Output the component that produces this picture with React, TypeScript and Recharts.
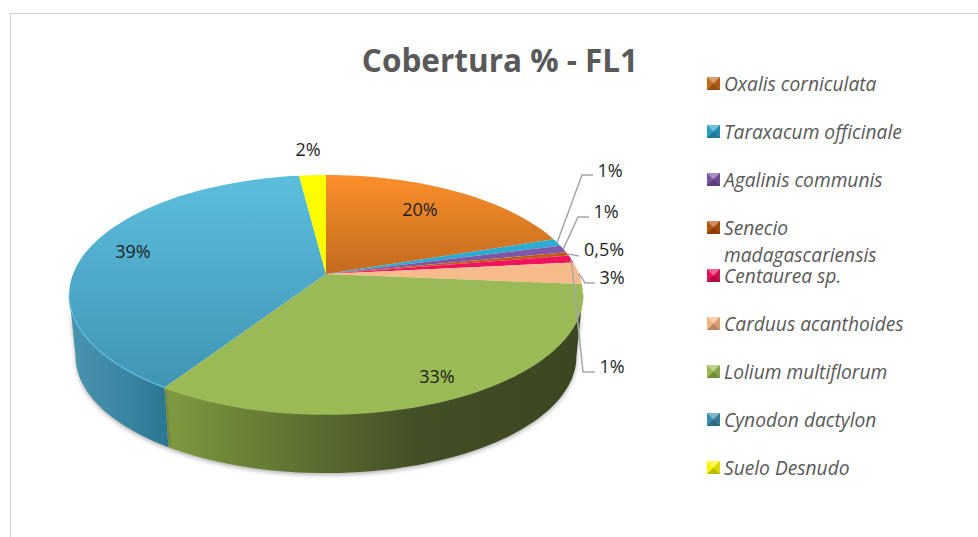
import { Legend, Pie, PieChart } from "recharts";

const species = [
  "Oxalis corniculata",
  "Taraxacum officinale",
  "Agalinis communis",
  "Senecio madagascariensis",
  "Centaurea sp.",
  "Carduus acanthoides",
  "Lolium multiflorum",
  "Cynodon dactylon",
  "Suelo Desnudo",
];
const cover = [20, 1, 1, 0.5, 1, 3, 33, 39, 2];

const topFrom = ["#fb8f2b", "#30aed6", "#8259ab", "#c4601a", "#f5145f", "#f8bf90", "#9bba59", "#5cbedd", "#ffff00"];
const topTo = ["#c46c1e", "#2a9fc4", "#7a52a2", "#b8520f", "#e8105a", "#f4b585", "#9aba55", "#3d8eae", "#f8f800"];
const wallFrom = ["#d97826", "#2a9fc4", "#7a52a2", "#b8520f", "#e8105a", "#f7b98a", "#7f9a40", "#4a94b0", "#d8d800"];
const wallMid = ["#a85c1c", "#1f7a98", "#5f4080", "#8a400c", "#b00c45", "#c08f68", "#434f26", "#3a85a1", "#a8a800"];
const wallTo = ["#8a4a15", "#1c6a84", "#4f3569", "#7a360a", "#980a3a", "#a57a5a", "#3b4622", "#2c7792", "#8c8c00"];

// label anchor and leader elbow for each slice (elbow only where a leader is drawn)
const labelSpots: [number, number][] = [
  [420, 209], [610, 170], [606, 211], [604, 249], [612, 366], [612, 277], [437, 376], [133, 251], [308, 149],
];
const leaders: ([number, number][] | null)[] = [
  null,
  [[582, 175], [593, 175]],
  [[578, 217], [589, 217]],
  [[579, 256]],
  [[583, 372], [595, 372]],
  [[585, 283], [595, 283]],
  null,
  null,
  null,
];

const tableData = species.map((name, i) => ({ name, value: cover[i] }));

const CX = 326;
const CY = 274;
const RX = 253;
const RY = 116;
const TILT = 0.172;
const DEPTH = 62.5;
const BOTTOM_SCALE = 0.975;
// angles of the silhouette, the wall is only seen between them
const WALL_LEFT = -170.1;
const WALL_RIGHT = -9.9;

// perspective projection of a circle; angle is recharts' (degrees, counter-clockwise from east)
function project(angle: number, cx: number, cy: number, scale = 1, drop = 0): [number, number] {
  const rad = (angle * Math.PI) / 180;
  const u = Math.cos(rad);
  const v = -Math.sin(rad);
  const d = 1 - TILT * v;
  return [cx + (RX * u * scale) / d, cy + (RY * v * scale) / d + drop];
}

function arc(from: number, to: number, cx: number, cy: number, scale = 1, drop = 0) {
  const pts: [number, number][] = [];
  const n = Math.max(2, Math.ceil(Math.abs(to - from) / 2));
  for (let i = 0; i <= n; i++) pts.push(project(from + ((to - from) * i) / n, cx, cy, scale, drop));
  return pts;
}

const toPath = (pts: [number, number][]) =>
  pts.map((p, i) => `${i ? "L" : "M"}${p[0].toFixed(2)} ${p[1].toFixed(2)}`).join(" ");

function TopShape(props: any) {
  const { cx, cy, startAngle, endAngle, index } = props;
  const pts = arc(startAngle, endAngle, cx, cy);
  const id = `top-${index}`;
  // front part of the rim gets a thin highlight
  const a = Math.min(startAngle, endAngle);
  const b = Math.max(startAngle, endAngle);
  const rimFrom = Math.max(a, WALL_LEFT);
  const rimTo = Math.min(b, WALL_RIGHT);
  return (
    <g>
      <defs>
        <linearGradient id={id} gradientUnits="userSpaceOnUse" x1="0" y1="175" x2="0" y2={index === 0 ? 270 : 415}>
          <stop offset="0" stopColor={topFrom[index]} />
          <stop offset="1" stopColor={topTo[index]} />
        </linearGradient>
      </defs>
      <path d={`M${cx} ${cy} ${toPath(pts).replace("M", "L")} Z`} fill={`url(#${id})`} />
      {rimTo > rimFrom && (
        <path d={toPath(arc(rimFrom, rimTo, cx, cy))} fill="none" stroke={topFrom[index]} strokeOpacity={0.9} strokeWidth={1.5} />
      )}
    </g>
  );
}

function WallShape(props: any) {
  const { cx, cy, startAngle, endAngle, index } = props;
  const a = Math.max(Math.min(startAngle, endAngle), WALL_LEFT);
  const b = Math.min(Math.max(startAngle, endAngle), WALL_RIGHT);
  if (b <= a) return <g />;
  const id = `wall-${index}`;
  const upper = arc(a, b, cx, cy);
  const lower = arc(b, a, cx, cy, BOTTOM_SCALE, DEPTH);
  const xs = upper.map((p) => p[0]);
  return (
    <g>
      <defs>
        <linearGradient id={id} gradientUnits="userSpaceOnUse" x1={Math.min(...xs)} y1="0" x2={Math.max(...xs)} y2="0">
          <stop offset="0" stopColor={wallFrom[index]} />
          <stop offset="0.6" stopColor={wallMid[index]} />
          <stop offset="1" stopColor={wallTo[index]} />
        </linearGradient>
      </defs>
      <path d={`${toPath(upper)} ${toPath(lower).replace("M", "L")} Z`} fill={`url(#${id})`} style={{ filter: "drop-shadow(0 2px 2px rgba(0,0,0,0.3))" }} />
    </g>
  );
}

function SliceLabel(props: any) {
  const { cx, cy, midAngle, index, value } = props;
  const spot = labelSpots[index];
  const elbow = leaders[index];
  const start = project(midAngle, cx, cy);
  return (
    <g>
      {elbow && <path d={toPath([start, ...elbow])} fill="none" stroke="#a6a6a6" strokeWidth={1.5} />}
      <text x={spot[0]} y={spot[1]} textAnchor="middle" dominantBaseline="central" fontFamily="'Open Sans', sans-serif" fontSize={18} fill="#1f1f1f">
        {`${String(value).replace(".", ",")}%`}
      </text>
    </g>
  );
}

function Marker({ index }: { index: number }) {
  return (
    <svg width={13} height={13} style={{ flex: "none", marginTop: 7, marginRight: 4 }}>
      <rect width={13} height={13} fill={topTo[index]} />
      <path d="M0 0 L13 0 L6.5 6.5 Z" fill="#ffffff" fillOpacity={0.35} />
      <path d="M0 13 L13 13 L6.5 6.5 Z" fill="#000000" fillOpacity={0.25} />
      <path d="M13 0 L13 13 L6.5 6.5 Z" fill="#000000" fillOpacity={0.12} />
    </svg>
  );
}

function SpeciesLegend() {
  return (
    <div>
      {species.map((name, i) => (
        <div key={name} style={{ display: "flex", height: 48, alignItems: "flex-start" }}>
          <Marker index={i} />
          <span style={{ fontFamily: "'Open Sans', sans-serif", fontStyle: "italic", fontSize: 19.2, lineHeight: "27px", color: "#595959", width: 200 }}>
            {name}
          </span>
        </div>
      ))}
    </div>
  );
}

export default function App() {
  return (
    <div style={{ position: "absolute", left: 0, top: 0, width: 978, height: 537, background: "#fff" }}>
      <div style={{ position: "absolute", left: 10, top: 13, width: 968, height: 524, borderTop: "1px solid #d0d0d0", borderLeft: "1px solid #d0d0d0", boxSizing: "border-box" }} />
      <PieChart width={978} height={537} margin={{ top: 0, right: 0, bottom: 0, left: 0 }} style={{ position: "absolute", left: 0, top: 0 }}>
        <text x={500} y={59} textAnchor="middle" dominantBaseline="central" fontFamily="'Open Sans', sans-serif" fontWeight={700} fontSize={31.5} fill="#595959">
          Cobertura % - FL1
        </text>
        <Pie
          data={tableData}
          dataKey="value"
          nameKey="name"
          cx={CX}
          cy={CY}
          outerRadius={100}
          startAngle={90}
          endAngle={-270}
          stroke="none"
          isAnimationActive={false}
          shape={WallShape}
          legendType="none"
        />
        <Pie
          data={tableData}
          dataKey="value"
          nameKey="name"
          cx={CX}
          cy={CY}
          outerRadius={100}
          startAngle={90}
          endAngle={-270}
          stroke="none"
          isAnimationActive={false}
          shape={TopShape}
          label={SliceLabel}
          labelLine={false}
        />
        <Legend
          content={() => <SpeciesLegend />}
          layout="vertical"
          wrapperStyle={{ position: "absolute", left: 707, top: 70, width: 230, bottom: "auto", right: "auto" }}
        />
      </PieChart>
    </div>
  );
}
